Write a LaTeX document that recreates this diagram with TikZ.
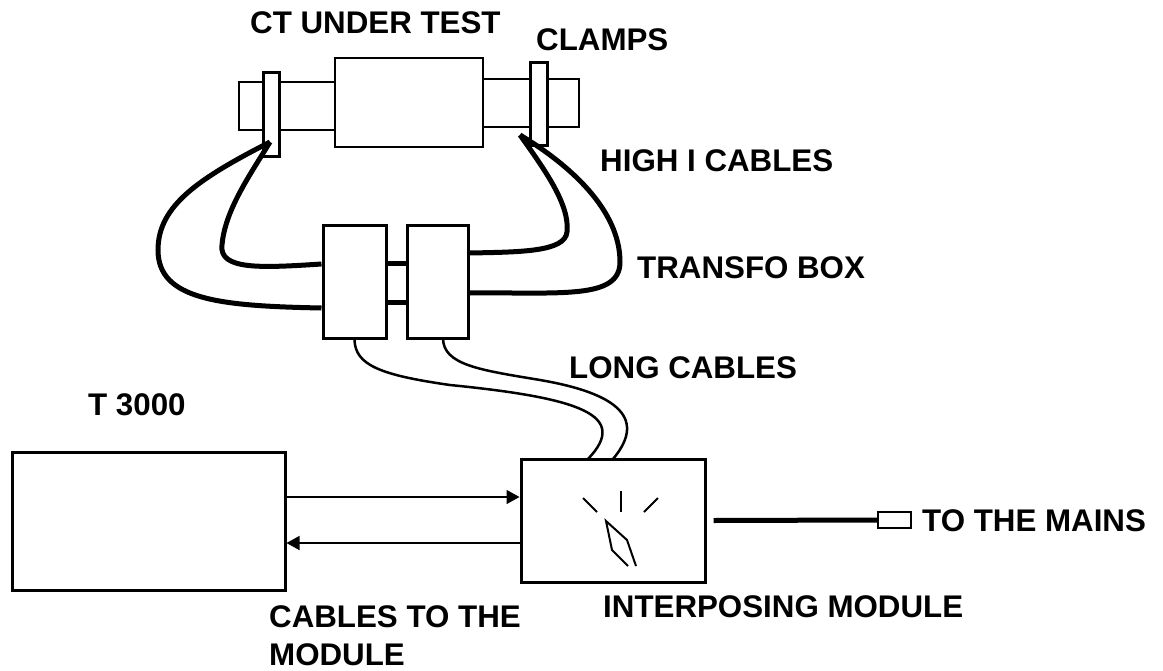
\documentclass[tikz,border=0pt]{standalone}
\usepackage{fontspec}
\setmainfont{Liberation Sans}
\usetikzlibrary{arrows.meta}

\tikzset{
	lbl/.style={anchor=base west, inner sep=0pt, font=\fontsize{31.3}{38}\selectfont\bfseries},
	blk/.style={draw, line width=3pt, fill=white, inner sep=0pt},
	tube/.style={draw, line width=1.5pt, fill=white, inner sep=0pt},
	hicable/.style={line width=5pt},
	longcable/.style={line width=2.5pt},
	sig/.style={line width=1.5pt, -{Triangle[length=13pt,width=14pt]}}
}

\begin{document}
\begin{tikzpicture}[x=1pt, y=-1pt]
	\useasboundingbox (0,0) rectangle (1163,670);

	%CT and clamps
	\node[tube, minimum width=96pt, minimum height=48pt] (ltube) at (287,106) {};
	\node[tube, minimum width=96pt, minimum height=48pt] (rtube) at (531,103) {};
	\node[tube, minimum width=148pt, minimum height=89pt] (ct) at (409,102.5) {};
	\node[blk, minimum width=16pt, minimum height=84pt] (lclamp) at (271,114) {};
	\node[blk, minimum width=17pt, minimum height=83pt] (rclamp) at (538.5,103.5) {};

	%transfo box, module and T 3000
	\node[blk, minimum width=63pt, minimum height=113pt] (lbox) at (354.5,281.5) {};
	\node[blk, minimum width=61pt, minimum height=113pt] (rbox) at (437.5,281.5) {};
	\node[blk, minimum width=184pt, minimum height=123pt] (module) at (613,520.5) {};
	\node[blk, minimum width=273pt, minimum height=138pt] (t3000) at (148.5,521) {};
	\node[draw, line width=2pt, inner sep=0pt, minimum width=33pt, minimum height=16pt] (plug) at (894.5,520) {};

	%cable ends
	\coordinate (lend) at (270,142);
	\coordinate (rend) at (520,135);
	\coordinate (bar1) at (0,263);
	\coordinate (bar2) at (0,302);
	\coordinate (up) at (0,497);
	\coordinate (dn) at (0,543);
	\coordinate (lin) at (588,459);
	\coordinate (rin) at (613,459);
	\coordinate (rout) at (443,338);

	%high I cables
	\draw[hicable] (lend) .. controls (200,178) and (158,205) .. (158,250)
		.. controls (158,300) and (220,306) .. (lbox.west |- 0,308);
	\draw[hicable] (lend) .. controls (250,175) and (225,210) .. (222,245)
		.. controls (219,270) and (260,268) .. (lbox.west |- 0,264);
	\draw[hicable] (rend) .. controls (545,170) and (570,205) .. (567,232)
		.. controls (565,252) and (520,252) .. (rbox.east |- 0,253);
	\draw[hicable] (rend) .. controls (570,165) and (620,210) .. (620,262)
		.. controls (620,300) and (560,292) .. (rbox.east |- 0,293);
	\draw[hicable] (lbox.east |- bar1) -- (rbox.west |- bar1);
	\draw[hicable] (lbox.east |- bar2) -- (rbox.west |- bar2);

	%long cables
	\draw[longcable] (lbox.south) .. controls (355,365) and (380,375) .. (450,385)
		.. controls (580,398) and (630,415) .. (lin);
	\draw[longcable] (rout) .. controls (443,365) and (480,370) .. (540,380)
		.. controls (610,392) and (650,415) .. (rin);

	%cables to the module
	\draw[sig] (t3000.east |- up) -- (module.west |- up);
	\draw[sig] (module.west |- dn) -- (t3000.east |- dn);

	%to the mains
	\draw[hicable] ([xshift=7pt]module.east) -- (plug.west);

	%dial
	\draw[line width=2pt] (583,498) -- (597,512);
	\draw[line width=2pt] (621,491) -- (621,512);
	\draw[line width=2pt] (658,498) -- (644,512);
	\draw[line width=2pt] (628,566) -- (612,550) -- (606,521) -- (627,540) -- (636,566);

	%labels
	\node[lbl] (tct) at (250,33) {CT UNDER TEST};
	\node[lbl] (tclamps) at (536,50) {CLAMPS};
	\node[lbl] (thigh) at (600,171) {HIGH I CABLES};
	\node[lbl] (ttransfo) at (637,278) {TRANSFO BOX};
	\node[lbl] (tlong) at (569,378) {LONG CABLES};
	\node[lbl] (tt3000) at (88,415) {T 3000};
	\node[lbl] (tmodule) at (603,617) {INTERPOSING MODULE};
	\node[lbl, anchor=north west, align=left] (tcables) at (269,605) {CABLES TO THE\\MODULE};
	\node[lbl] (tmains) at (922,531) {TO THE MAINS};
\end{tikzpicture}
\end{document}
